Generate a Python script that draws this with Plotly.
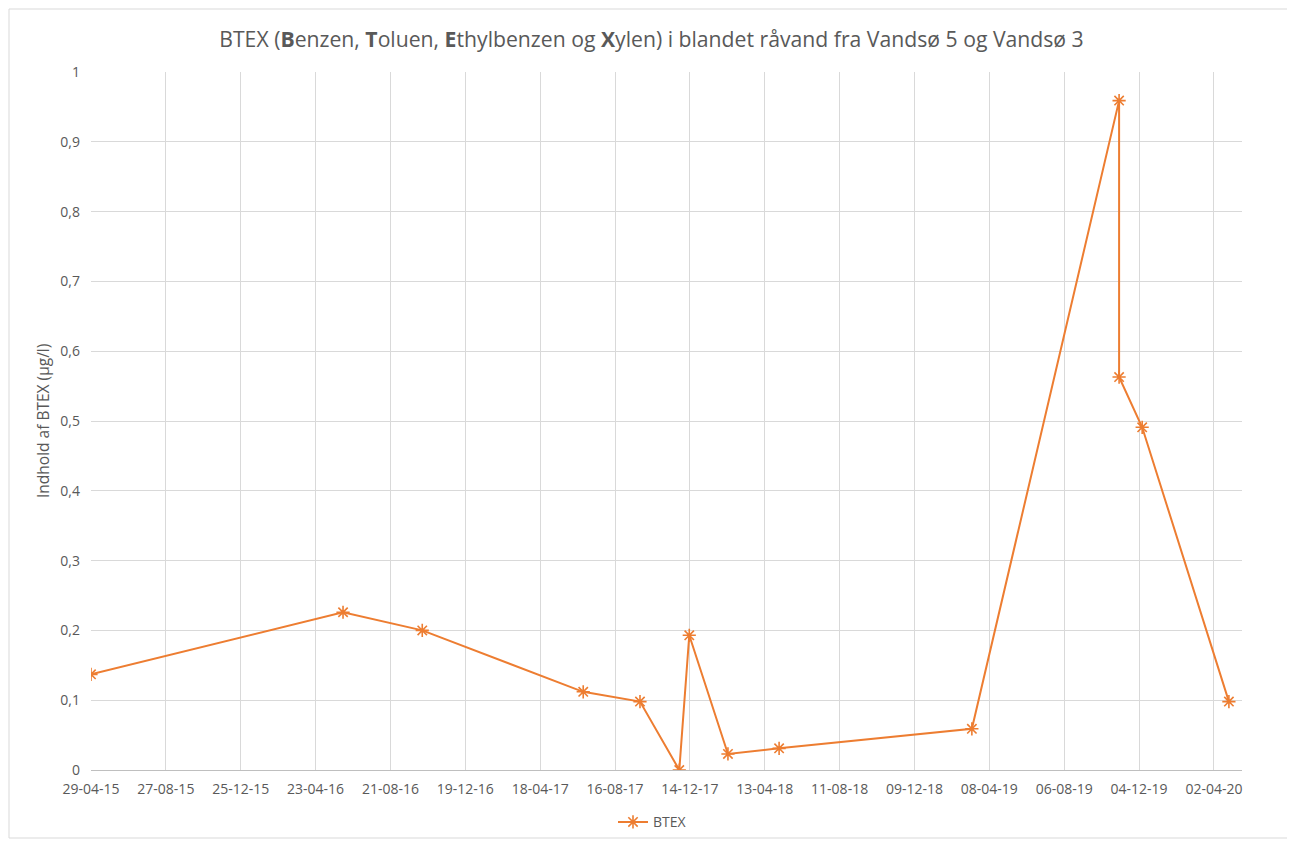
import plotly.graph_objects as go
from datetime import date, timedelta

dates = ["2015-04-29", "2016-06-06", "2016-10-11", "2017-06-26", "2017-09-25",
         "2017-11-27", "2017-12-13", "2018-02-13", "2018-05-06", "2019-03-11",
         "2019-11-02", "2019-11-02", "2019-12-09", "2020-04-26"]
btex = [0.137, 0.226, 0.200, 0.112, 0.098, 0.0, 0.193, 0.023, 0.031, 0.059,
        0.959, 0.563, 0.491, 0.098]

start = date(2015, 4, 29)
tick_dates = [start + timedelta(days=120 * i) for i in range(16)]
tick_vals = [d.isoformat() for d in tick_dates]
tick_text = [d.strftime("%d-%m-%y") for d in tick_dates]

y_ticks = [i / 10 for i in range(11)]

orange = "#ED7D31"
gray_text = "#595959"
grid = "#D9D9D9"
font_family = "'Open Sans', 'Noto Sans', sans-serif"

# page body has an 8px margin: figure drawn 8px right/down
W, H = 1287, 833
L, T, R, B = 83, 64, 53, 71

fig = go.Figure()
fig.add_trace(go.Scatter(
    x=dates, y=btex, mode="lines+markers", name="BTEX",
    line=dict(color=orange, width=2),
    marker=dict(symbol="asterisk-open", size=11, color=orange,
                line=dict(color=orange, width=1.6)),
))

fig.update_layout(
    width=W, height=H,
    paper_bgcolor="white", plot_bgcolor="white",
    separators=",.",
    margin=dict(l=L, r=R, t=T, b=B, autoexpand=False),
    font=dict(family=font_family, color=gray_text, size=14),
    title=dict(
        text="BTEX (<b>B</b>enzen, <b>T</b>oluen, <b>E</b>thylbenzen og <b>X</b>ylen) i blandet råvand fra Vandsø 5 og Vandsø 3",
        x=0.5, xanchor="center", y=1 - 32 / H, yanchor="middle",
        font=dict(size=21.2, color=gray_text, family=font_family)),
    xaxis=dict(
        type="date", automargin=False,
        range=["2015-04-29", "2020-05-17"],
        tickmode="array", tickvals=tick_vals, ticktext=tick_text,
        showgrid=True, gridcolor=grid, gridwidth=1,
        showline=True, linecolor="#BFBFBF", linewidth=1,
        ticks="", zeroline=False, ticklabelstandoff=6,
        tickfont=dict(size=14, color=gray_text),
    ),
    yaxis=dict(
        range=[0, 1], automargin=False,
        tickmode="array", tickvals=y_ticks,
        showgrid=True, gridcolor=grid, gridwidth=1,
        showline=False, zeroline=False, ticks="", ticklabelstandoff=10,
        tickfont=dict(size=14, color=gray_text),
    ),
    annotations=[dict(text="Indhold af BTEX (µg/l)", textangle=-90,
                      xref="paper", yref="paper", x=(43 - 91) / 1151, y=0.5,
                      xanchor="center", yanchor="middle", showarrow=False,
                      font=dict(size=15.5, color=gray_text))],
    showlegend=True,
    legend=dict(orientation="h", x=0.5 - 14 / 1151, xanchor="center", y=-0.075, yanchor="middle",
                font=dict(size=14, color=gray_text), bgcolor="rgba(0,0,0,0)"),
    shapes=[dict(type="rect", xref="paper", yref="paper",
                 x0=(9 - 91) / 1151, x1=(1292 - 91) / 1151,
                 y0=(770 - 838) / 698, y1=(770 - 9) / 698,
                 line=dict(color="#D9D9D9", width=1), fillcolor="rgba(0,0,0,0)", layer="above")],
)

fig.write_html("out.html")
